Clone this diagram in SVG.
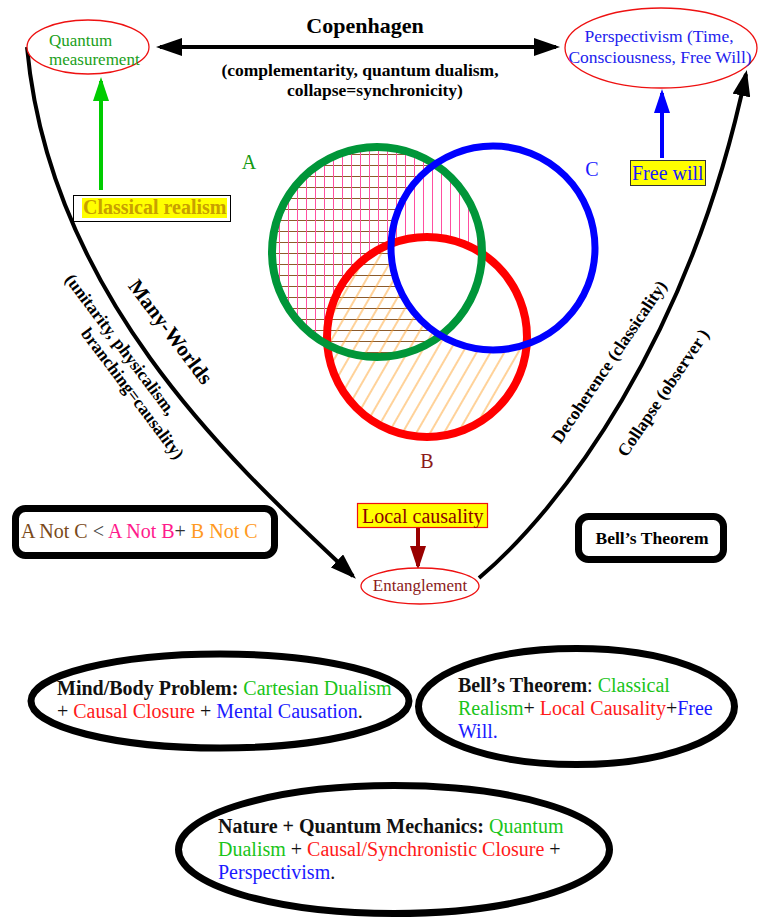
<svg xmlns="http://www.w3.org/2000/svg" width="759" height="919" viewBox="0 0 759 919">
<style>
text{font-family:"Liberation Serif","Times New Roman",serif;}
.b{font-weight:bold}
.g{fill:#19c419}
.r{fill:#ff1a1a}
.bl{fill:#1a1aff}
.k{fill:#111}
.ring{fill:none;stroke:#000;stroke-width:7}
.box{fill:#fff;stroke:#000;stroke-width:7}
.conn{fill:none;stroke:#000;stroke-width:4}
.redell{fill:#fff;stroke:#ee1111;stroke-width:1.3}
</style>
<defs>
<marker id="ak" markerUnits="userSpaceOnUse" markerWidth="26" markerHeight="18" viewBox="0 0 26 18" refX="22" refY="9" orient="auto-start-reverse"><path d="M0,0L26,9L0,18z" fill="#000"/></marker>
<marker id="ag" markerUnits="userSpaceOnUse" markerWidth="24" markerHeight="16" viewBox="0 0 24 16" refX="20" refY="8" orient="auto"><path d="M0,0L24,8L0,16z" fill="#00cc00"/></marker>
<marker id="ab" markerUnits="userSpaceOnUse" markerWidth="24" markerHeight="16" viewBox="0 0 24 16" refX="20" refY="8" orient="auto"><path d="M0,0L24,8L0,16z" fill="#0000ff"/></marker>
<marker id="ar" markerUnits="userSpaceOnUse" markerWidth="24" markerHeight="16" viewBox="0 0 24 16" refX="20" refY="8" orient="auto"><path d="M0,0L24,8L0,16z" fill="#990000"/></marker>
<pattern id="hH" patternUnits="userSpaceOnUse" width="10" height="11"><line x1="0" y1="0.5" x2="10" y2="0.5" stroke="#8b5a2b" stroke-width="1"/></pattern>
<pattern id="hV" patternUnits="userSpaceOnUse" width="9" height="10"><line x1="0.5" y1="0" x2="0.5" y2="10" stroke="#ff4fa0" stroke-width="1"/></pattern>
<pattern id="hD" patternUnits="userSpaceOnUse" width="12" height="10" patternTransform="rotate(30)"><line x1="1" y1="0" x2="1" y2="10" stroke="#ffa534" stroke-width="1"/></pattern>
<mask id="mAnC" maskUnits="userSpaceOnUse" x="0" y="0" width="759" height="919"><circle cx="377" cy="252" r="105" fill="#fff"/><circle cx="493" cy="248" r="102" fill="#000"/></mask>
<mask id="mAnB" maskUnits="userSpaceOnUse" x="0" y="0" width="759" height="919"><circle cx="377" cy="252" r="105" fill="#fff"/><circle cx="427" cy="337" r="100" fill="#000"/></mask>
<mask id="mBnC" maskUnits="userSpaceOnUse" x="0" y="0" width="759" height="919"><circle cx="427" cy="337" r="100" fill="#fff"/><circle cx="493" cy="248" r="102" fill="#000"/></mask>
</defs>

<g id="connectors">
<path class="conn" d="M160,47 L556,47" marker-start="url(#ak)" marker-end="url(#ak)"/>
<path class="conn" d="M27,47 C50,300 240,470 353,576" marker-end="url(#ak)"/>
<path class="conn" d="M479,578 C560,510 690,340 746,74" marker-end="url(#ak)"/>
<path fill="none" stroke="#00cc00" stroke-width="4" d="M101,190 L101,81" marker-end="url(#ag)"/>
<path fill="none" stroke="#0000ff" stroke-width="4" d="M662,158 L662,93" marker-end="url(#ab)"/>
<path fill="none" stroke="#990000" stroke-width="4" d="M418,520 L418,566" marker-end="url(#ar)"/>
</g>

<g id="labels">
<text x="365" y="33" text-anchor="middle" class="b" font-size="22">Copenhagen</text>
<text x="360" y="76" text-anchor="middle" class="b" font-size="17.5">(complementarity, quantum dualism,</text>
<text x="375" y="96" text-anchor="middle" class="b" font-size="17.5">collapse=synchronicity)</text>
<text transform="translate(165,336) rotate(53)" text-anchor="middle" class="b" font-size="21">Many-Worlds</text>
<text transform="translate(116,348) rotate(53)" text-anchor="middle" class="b" font-size="17.5">(unitarity, physicalism,</text>
<text transform="translate(128,397) rotate(53)" text-anchor="middle" class="b" font-size="17.5">branching=causality)</text>
<text transform="translate(614,365) rotate(-56)" text-anchor="middle" class="b" font-size="17.5">Decoherence (classicality)</text>
<text transform="translate(668,396) rotate(-56)" text-anchor="middle" class="b" font-size="17.5">Collapse (observer )</text>
</g>

<g id="venn">
<rect x="250" y="130" width="320" height="320" fill="url(#hH)" mask="url(#mAnC)"/>
<rect x="250" y="130" width="320" height="320" fill="url(#hV)" mask="url(#mAnB)"/>
<rect x="250" y="130" width="320" height="320" fill="url(#hD)" mask="url(#mBnC)"/>
<circle cx="427" cy="337" r="100" fill="none" stroke="#ff0000" stroke-width="8"/>
<circle cx="377" cy="252" r="105" fill="none" stroke="#009639" stroke-width="8"/>
<circle cx="493" cy="248" r="102" fill="none" stroke="#0000ff" stroke-width="7"/>
<text x="249" y="169" text-anchor="middle" font-size="20" fill="#119911">A</text>
<text x="592" y="176" text-anchor="middle" font-size="20" fill="#1a1aff">C</text>
<text x="427" y="468" text-anchor="middle" font-size="20" fill="#8b1a1a">B</text>
</g>

<g id="quantum-measurement">
<ellipse class="redell" cx="88" cy="47" rx="61" ry="27"/>
<text x="49" y="46" font-size="17" fill="#20a020">Quantum</text>
<text x="49" y="65" font-size="17" fill="#20a020">measurement</text>
</g>

<g id="perspectivism">
<ellipse class="redell" cx="661" cy="48" rx="96" ry="40"/>
<text x="659" y="42" text-anchor="middle" font-size="17.5" fill="#2222ee">Perspectivism (Time,</text>
<text x="660" y="63" text-anchor="middle" font-size="17.5" fill="#2222ee">Consciousness, Free Will)</text>
</g>

<g id="classical-realism">
<rect x="73.5" y="195.5" width="157" height="26" fill="#fff" stroke="#000" stroke-width="1"/>
<rect x="82" y="198" width="145" height="20" fill="#ffff00"/>
<text x="83" y="214" class="b" font-size="20" fill="#c8a000">Classical realism</text>
</g>

<g id="free-will">
<rect x="630.5" y="160.5" width="75" height="25" fill="#ffff00" stroke="#333" stroke-width="1"/>
<text x="632" y="180" font-size="20" fill="#1a1aff">Free will</text>
</g>

<g id="local-causality">
<rect x="357.5" y="503.5" width="130" height="24" fill="#ffff00" stroke="#ee1111" stroke-width="1.2"/>
<text x="362" y="523" font-size="20" fill="#8b0000">Local causality</text>
</g>

<g id="entanglement">
<ellipse class="redell" cx="420" cy="586" rx="59" ry="18" stroke="#aa1111"/>
<text x="420" y="591" text-anchor="middle" font-size="17" fill="#8b1a1a">Entanglement</text>
</g>

<g id="inequality">
<rect class="box" x="15.5" y="508.5" width="259" height="47" rx="10"/>
<text x="21" y="538" font-size="20"><tspan fill="#7a4a1a">A Not C</tspan><tspan fill="#444"> &lt; </tspan><tspan fill="#ff1a8c">A Not B</tspan><tspan fill="#333">+ </tspan><tspan fill="#ff9a22">B Not C</tspan></text>
</g>

<g id="bells-box">
<rect class="box" x="578.5" y="516.5" width="145" height="43" rx="10"/>
<text x="652" y="544" text-anchor="middle" class="b" font-size="17.5">Bell’s Theorem</text>
</g>

<g id="mind-body">
<ellipse class="ring" cx="220" cy="701" rx="189" ry="47"/>
<text x="57" y="695" font-size="20"><tspan class="b k">Mind/Body Problem:</tspan><tspan class="g"> Cartesian Dualism</tspan></text>
<text x="57" y="718" font-size="20"><tspan class="k">+ </tspan><tspan class="r">Causal Closure</tspan><tspan class="k"> + </tspan><tspan class="bl">Mental Causation</tspan><tspan class="k">.</tspan></text>
</g>

<g id="bells-theorem">
<ellipse class="ring" cx="576.5" cy="706.5" rx="158" ry="58"/>
<text x="458" y="692" font-size="20"><tspan class="b k">Bell’s Theorem</tspan><tspan class="k">: </tspan><tspan class="g">Classical</tspan></text>
<text x="458" y="715" font-size="20"><tspan class="g">Realism</tspan><tspan class="k">+ </tspan><tspan class="r">Local Causality</tspan><tspan class="k">+</tspan><tspan class="bl">Free</tspan></text>
<text x="458" y="738" font-size="20" class="bl">Will.</text>
</g>

<g id="nature-qm">
<ellipse class="ring" cx="394" cy="849.5" rx="215.5" ry="64"/>
<text x="218" y="833" font-size="20"><tspan class="b k">Nature + Quantum Mechanics:</tspan><tspan class="g"> Quantum</tspan></text>
<text x="218" y="856" font-size="20"><tspan class="g">Dualism</tspan><tspan class="k"> + </tspan><tspan class="r">Causal/Synchronistic Closure</tspan><tspan class="k"> +</tspan></text>
<text x="218" y="879" font-size="20"><tspan class="bl">Perspectivism</tspan><tspan class="k">.</tspan></text>
</g>
</svg>
